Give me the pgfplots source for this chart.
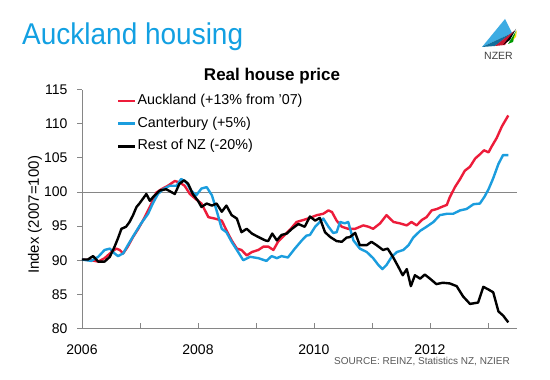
\documentclass[border=0pt]{standalone}
\usepackage{pgfplots}
\pgfplotsset{compat=1.18}
\usepackage{pgfplotstable}
\usepackage{fontspec}
\setmainfont{Liberation Sans}
\definecolor{aklred}{RGB}{237,28,58}
\definecolor{canblue}{RGB}{27,157,222}
\definecolor{titleblue}{RGB}{18,160,226}
\definecolor{axgray}{RGB}{134,134,134}
\definecolor{srcgray}{RGB}{89,89,89}

\pgfplotstableread{
x y
2006.00 90.1
2006.16 90.0
2006.28 89.8
2006.39 90.3
2006.51 91.2
2006.59 91.7
2006.65 91.5
2006.71 91.0
2006.79 92.0
2006.88 93.4
2006.97 94.6
2007.05 95.8
2007.14 97.3
2007.22 98.7
2007.28 99.9
2007.37 100.4
2007.48 100.9
2007.60 101.6
2007.68 101.4
2007.77 100.9
2007.86 99.7
2007.97 98.9
2008.06 98.3
2008.18 96.3
2008.29 96.1
2008.41 95.8
2008.49 94.4
2008.58 92.9
2008.67 91.7
2008.75 91.5
2008.84 90.7
2008.93 91.2
2009.04 91.5
2009.13 92.0
2009.21 92.0
2009.30 91.5
2009.38 92.7
2009.47 93.5
2009.59 94.5
2009.70 95.6
2009.82 95.9
2009.93 96.2
2010.05 96.6
2010.16 96.8
2010.25 97.3
2010.31 97.05
2010.39 95.8
2010.48 94.9
2010.59 94.6
2010.71 94.6
2010.85 95.1
2010.94 94.9
2011.02 94.6
2011.14 95.4
2011.25 96.6
2011.37 95.6
2011.48 95.4
2011.60 95.1
2011.68 95.6
2011.77 95.1
2011.86 95.9
2011.94 96.3
2012.03 97.3
2012.12 97.5
2012.20 97.8
2012.29 98.1
2012.34 99.2
2012.43 100.7
2012.52 101.9
2012.60 103.1
2012.69 103.7
2012.78 104.9
2012.86 105.5
2012.93 106.1
2013.01 105.8
2013.06 106.6
2013.15 107.9
2013.24 109.6
2013.35 111.2
}\auckland

\pgfplotstableread{
x y
2006.00 90.1
2006.16 89.9
2006.28 90.5
2006.39 91.5
2006.48 91.7
2006.56 91.0
2006.62 90.6
2006.71 91.0
2006.79 92.2
2006.91 93.9
2007.02 95.4
2007.14 96.8
2007.22 98.3
2007.31 99.7
2007.40 100.4
2007.51 100.9
2007.63 100.9
2007.71 101.9
2007.80 101.4
2007.88 100.2
2007.97 99.5
2008.06 100.5
2008.15 100.7
2008.24 99.5
2008.32 97.3
2008.41 94.6
2008.49 94.1
2008.58 92.7
2008.67 91.5
2008.78 90.0
2008.90 90.5
2009.04 90.3
2009.18 89.9
2009.27 90.6
2009.36 90.3
2009.44 90.6
2009.55 90.4
2009.67 91.7
2009.79 92.9
2009.87 93.6
2009.93 93.7
2010.02 94.9
2010.10 95.6
2010.16 96.1
2010.25 94.9
2010.33 94.0
2010.39 94.1
2010.45 95.6
2010.53 95.4
2010.59 95.6
2010.68 92.9
2010.79 91.7
2010.91 91.2
2011.02 90.3
2011.11 89.3
2011.18 88.7
2011.25 89.3
2011.34 90.5
2011.43 91.2
2011.54 91.5
2011.63 92.2
2011.71 93.3
2011.83 94.3
2011.94 94.9
2012.06 95.6
2012.17 96.6
2012.29 96.8
2012.40 96.8
2012.52 97.3
2012.63 97.5
2012.75 98.2
2012.86 98.3
2012.94 99.3
2013.01 100.4
2013.09 102.0
2013.18 104.1
2013.26 105.4
2013.35 105.4
}\canterbury

\pgfplotstableread{
x y
2006.00 90.1
2006.10 90.1
2006.19 90.6
2006.28 89.8
2006.39 89.8
2006.48 90.5
2006.56 91.95
2006.62 93.2
2006.68 94.6
2006.76 94.9
2006.82 95.6
2006.88 96.6
2006.94 97.8
2006.99 98.3
2007.05 99.0
2007.11 99.7
2007.17 98.7
2007.22 99.2
2007.34 100.2
2007.45 100.4
2007.60 99.7
2007.68 101.2
2007.76 101.7
2007.83 101.2
2007.91 99.7
2008.00 98.7
2008.06 97.8
2008.15 98.3
2008.24 98.0
2008.32 98.3
2008.41 97.1
2008.49 98.0
2008.58 96.6
2008.67 96.1
2008.75 94.1
2008.84 94.6
2008.93 93.9
2009.04 93.4
2009.16 92.9
2009.21 92.8
2009.28 93.9
2009.36 92.9
2009.44 93.7
2009.53 93.9
2009.62 94.6
2009.73 95.3
2009.84 94.9
2009.93 96.4
2010.02 95.8
2010.10 96.2
2010.19 94.1
2010.28 93.4
2010.39 92.8
2010.48 92.7
2010.56 93.3
2010.62 93.4
2010.71 94.0
2010.79 92.2
2010.91 92.2
2010.99 92.7
2011.08 92.2
2011.19 91.5
2011.27 91.7
2011.36 90.5
2011.45 89.1
2011.53 87.8
2011.60 88.7
2011.67 86.2
2011.74 87.8
2011.83 87.3
2011.91 87.9
2012.00 87.3
2012.11 86.5
2012.22 86.7
2012.34 86.6
2012.46 86.2
2012.57 84.7
2012.69 83.6
2012.83 83.8
2012.92 86.1
2013.01 85.7
2013.09 85.3
2013.18 82.5
2013.26 81.9
2013.35 80.9
}\restnz

\begin{document}
\begin{tikzpicture}
\fill[white] (0pt,0pt) rectangle (550pt,380pt);
% slide title
\node[anchor=base west, inner sep=0pt, text=titleblue] at (22pt,335.3pt)
  {\scalebox{0.933}[1]{\fontsize{30}{36}\selectfont Auckland housing}};
% logo
\fill[canblue!85!white] (482pt,333pt) -- (505pt,361pt) -- (512pt,347pt) -- cycle;
\fill[canblue!70!black] (482pt,333pt) -- (512pt,347pt) -- (495pt,334pt) -- cycle;
\fill[aklred!85!black] (495pt,334pt) -- (514pt,349pt) -- (505pt,335pt) -- cycle;
\fill[black] (503pt,335pt) -- (516pt,351pt) -- (510pt,340pt) -- cycle;
\fill[green!60!black] (508pt,336pt) -- (516pt,349pt) -- (513pt,338pt) -- cycle;
\fill[yellow!80!orange] (513pt,340pt) -- (517pt,350pt) -- (516pt,343pt) -- cycle;
\node[anchor=base, inner sep=0pt, text=black!75] at (498.5pt,320pt)
  {\fontsize{10.5}{12}\selectfont NZER};
% chart title
\node[anchor=base, inner sep=0pt] at (272pt,299pt)
  {\fontsize{17}{20}\selectfont\bfseries Real house price};
% source
\node[anchor=east, inner sep=0pt, text=srcgray] at (510pt,18.3pt)
  {\fontsize{10}{12}\selectfont SOURCE: REINZ, Statistics NZ, NZIER};

\begin{axis}[
  at={(82pt,51.5pt)}, anchor=south west,
  scale only axis, width=435pt, height=239pt,
  xmin=2006, xmax=2013.5, ymin=80, ymax=115,
  axis lines*=left,
  axis line style={axgray, line width=0.8pt},
  tick style={axgray, line width=0.8pt},
  major tick length=5pt,
  xtick align=inside, ytick align=outside,
  xtick={2006,2007,...,2013},
  xticklabels={2006,,2008,,2010,,2012,},
  ytick={80,85,...,115},
  /pgf/number format/assume math mode=true,
  ticklabel style={font=\fontsize{14}{16}\selectfont},
  xticklabel style={yshift=-13pt},
  yticklabel style={xshift=-6pt},
  ylabel={Index (2007=100)},
  ylabel style={at={(axis description cs:-0.108,0.475)}, anchor=center,
    font=\fontsize{15}{17}\selectfont},
  legend cell align=left,
  legend style={draw=none, fill=none, at={(axis description cs:0.0805,0.9845)},
    anchor=north west, inner sep=0pt, row sep=7.7pt,
    font=\fontsize{14.3}{16}\selectfont,
    nodes={inner sep=1pt, text height=10pt, text depth=3pt}},
  legend image code/.code={\draw[#1] (0pt,0pt) -- (17pt,0pt);},
  clip=false,
]
\addplot[axgray, line width=0.8pt, forget plot] coordinates {(2006,100) (2013.5,100)};
\addplot[aklred, line width=2.4pt, line join=round] table[x=x,y=y] {\auckland};
\addlegendentry{Auckland (+13\% from '07)}
\addplot[canblue, line width=2.4pt, line join=round] table[x=x,y=y] {\canterbury};
\addlegendentry{Canterbury (+5\%)}
\addplot[black, line width=2.4pt, line join=round] table[x=x,y=y] {\restnz};
\addlegendentry{Rest of NZ (-20\%)}
\end{axis}
\end{tikzpicture}
\end{document}
